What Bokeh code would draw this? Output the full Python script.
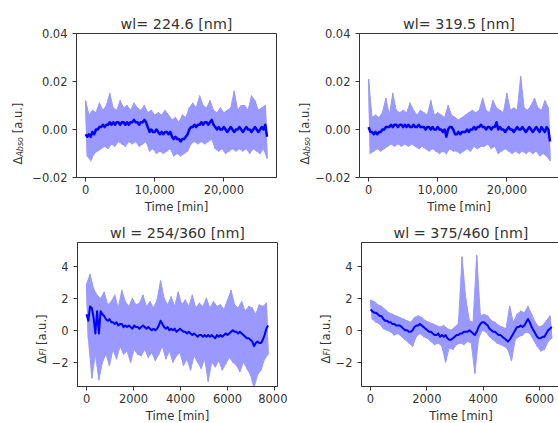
import math
from bokeh.plotting import figure
from bokeh.layouts import column, row
from bokeh.models import (Range1d, FixedTicker, CustomJSTickFormatter,
                          NumeralTickFormatter, LinearAxis, Label)
from bokeh.embed import file_html
from bokeh.resources import INLINE

# ---------------- data ----------------
titles = ["wl= 224.6 [nm]", "wl= 319.5 [nm]", "wl = 254/360 [nm]", "wl = 375/460 [nm]"]
x_label = "Time [min]"
ticks_x_top = [0, 10000, 20000]
ticks_y_top = [-0.02, 0.0, 0.02, 0.04]
ticks_x_bl = [0, 2000, 4000, 6000, 8000]
ticks_x_br = [0, 2000, 4000, 6000]
ticks_y_bot = [-2, 0, 2, 4]

time_top = [0, 250, 500, 750, 1000, 1250, 1500, 1750, 2000, 2250,
            2500, 2750, 3000, 3250, 3500, 3750, 4000, 4250, 4500, 4750,
            5000, 5250, 5500, 5750, 6000, 6250, 6500, 6750, 7000, 7250,
            7500, 7750, 8000, 8250, 8500, 8750, 9000, 9250, 9500, 9750,
            10000, 10250, 10500, 10750, 11000, 11250, 11500, 11750, 12000, 12250,
            12500, 12750, 13000, 13250, 13500, 13750, 14000, 14250, 14500, 14750,
            15000, 15250, 15500, 15750, 16000, 16250, 16500, 16750, 17000, 17250,
            17500, 17750, 18000, 18250, 18500, 18750, 19000, 19250, 19500, 19750,
            20000, 20250, 20500, 20750, 21000, 21250, 21500, 21750, 22000, 22250,
            22500, 22750, 23000, 23250, 23500, 23750, 24000, 24250, 24500, 24750,
            25000, 25250, 25500, 25750, 26000, 26250]

raw_224 = [0.012, -0.011, 0.006, -0.013, 0.008, -0.010, 0.007, -0.009, 0.011, -0.008,
           0.008, -0.007, 0.010, -0.008, 0.015, -0.006, 0.009, -0.007, 0.008, -0.005,
           0.012, -0.006, 0.009, -0.007, 0.010, -0.005, 0.008, -0.006, 0.011, -0.005,
           0.009, -0.007, 0.008, -0.006, 0.010, -0.005, 0.007, -0.009, 0.008, -0.008,
           0.006, -0.010, 0.007, -0.009, 0.006, -0.010, 0.008, -0.009, 0.006, -0.008,
           0.004, -0.011, 0.005, -0.010, 0.003, -0.011, 0.006, -0.010, 0.005, -0.009,
           0.009, -0.006, 0.011, -0.005, 0.009, -0.006, 0.014, -0.005, 0.010, -0.006,
           0.009, -0.005, 0.012, -0.004, 0.008, -0.008, 0.007, -0.009, 0.009, -0.008,
           0.007, -0.010, 0.008, -0.009, 0.009, -0.008, 0.016, -0.009, 0.008, -0.008,
           0.010, -0.009, 0.010, -0.008, 0.008, -0.010, 0.014, -0.008, 0.012, -0.009,
           0.008, -0.010, 0.009, -0.008, 0.010, -0.012]
smooth_224 = [-0.002, -0.003, -0.002, -0.003, -0.001, -0.002, 0.000, 0.000, 0.001, 0.001,
              0.002, 0.001, 0.002, 0.002, 0.003, 0.002, 0.003, 0.002, 0.003, 0.003,
              0.002, 0.003, 0.003, 0.002, 0.003, 0.002, 0.003, 0.003, 0.004, 0.003,
              0.003, 0.002, 0.003, 0.003, 0.004, 0.003, 0.001, -0.001, 0.000, -0.001,
              -0.001, 0.000, -0.001, -0.002, -0.001, -0.002, -0.001, -0.001, -0.002, -0.001,
              -0.003, -0.004, -0.003, -0.004, -0.004, -0.005, -0.004, -0.004, -0.003, -0.002,
              0.000, 0.001, 0.001, 0.002, 0.001, 0.002, 0.002, 0.003, 0.002, 0.003,
              0.003, 0.002, 0.003, 0.004, 0.002, 0.001, 0.000, 0.001, 0.000, 0.000,
              0.001, 0.000, -0.001, 0.000, 0.001, 0.000, -0.001, 0.000, 0.000, 0.001,
              0.000, -0.001, 0.000, 0.001, 0.000, 0.000, -0.001, 0.000, 0.001, 0.000,
              -0.001, 0.000, 0.001, 0.000, 0.002, -0.003]

raw_319 = [0.021, -0.010, 0.005, -0.009, 0.006, -0.008, 0.005, -0.009, 0.007, -0.008,
           0.013, -0.007, 0.006, -0.006, 0.015, -0.007, 0.008, -0.006, 0.007, -0.007,
           0.008, -0.006, 0.007, -0.007, 0.011, -0.006, 0.008, -0.007, 0.006, -0.008,
           0.008, -0.007, 0.007, -0.008, 0.006, -0.009, 0.012, -0.008, 0.006, -0.009,
           0.007, -0.010, 0.006, -0.009, 0.005, -0.010, 0.010, -0.008, 0.006, -0.009,
           0.005, -0.009, 0.004, -0.010, 0.005, -0.009, 0.006, -0.008, 0.007, -0.009,
           0.008, -0.007, 0.007, -0.008, 0.008, -0.007, 0.013, -0.007, 0.008, -0.006,
           0.007, -0.008, 0.012, -0.007, 0.009, -0.010, 0.008, -0.009, 0.007, -0.008,
           0.015, -0.009, 0.008, -0.010, 0.009, -0.009, 0.008, -0.010, 0.022, -0.009,
           0.009, -0.010, 0.008, -0.009, 0.010, -0.010, 0.013, -0.009, 0.009, -0.011,
           0.008, -0.010, 0.012, -0.011, 0.009, -0.013]
smooth_319 = [0.001, -0.001, -0.001, -0.002, -0.001, -0.002, -0.001, -0.001, 0.000, 0.000,
              0.001, 0.001, 0.001, 0.002, 0.001, 0.002, 0.002, 0.001, 0.002, 0.002,
              0.001, 0.002, 0.001, 0.002, 0.001, 0.001, 0.002, 0.001, 0.001, 0.002,
              0.001, 0.001, 0.001, 0.000, 0.001, 0.001, 0.000, 0.001, 0.000, 0.000,
              0.001, 0.000, 0.000, -0.001, 0.000, -0.003, 0.000, 0.001, 0.001, 0.000,
              -0.002, -0.002, -0.001, -0.002, -0.001, -0.001, -0.001, 0.000, -0.001, 0.000,
              0.000, 0.001, 0.000, 0.001, 0.001, 0.002, 0.001, 0.001, 0.000, 0.001,
              0.001, 0.000, 0.001, 0.001, 0.003, 0.000, 0.001, 0.000, 0.000, -0.001,
              0.000, 0.001, 0.000, 0.000, -0.001, 0.000, 0.001, 0.000, 0.000, 0.001,
              0.000, -0.001, 0.000, 0.001, 0.000, -0.001, 0.000, 0.001, 0.000, -0.001,
              0.001, 0.000, -0.001, 0.001, 0.000, -0.005]

time_254 = [0, 75, 150, 225, 300, 375, 450, 525, 600, 675,
            750, 825, 900, 975, 1050, 1125, 1200, 1275, 1350, 1425,
            1500, 1575, 1650, 1725, 1800, 1875, 1950, 2025, 2100, 2175,
            2250, 2325, 2400, 2475, 2550, 2625, 2700, 2775, 2850, 2925,
            3000, 3075, 3150, 3225, 3300, 3375, 3450, 3525, 3600, 3675,
            3750, 3825, 3900, 3975, 4050, 4125, 4200, 4275, 4350, 4425,
            4500, 4575, 4650, 4725, 4800, 4875, 4950, 5025, 5100, 5175,
            5250, 5325, 5400, 5475, 5550, 5625, 5700, 5775, 5850, 5925,
            6000, 6075, 6150, 6225, 6300, 6375, 6450, 6525, 6600, 6675,
            6750, 6825, 6900, 6975, 7050, 7125, 7200, 7275, 7350, 7425,
            7500, 7575, 7650, 7725]
raw_254 = [2.9, -0.5, 3.5, -3.0, 2.6, -1.5, 2.2, -3.1, 2.0, -2.0,
           2.4, -1.5, 1.6, -2.2, 1.8, -1.2, 2.2, -1.8, 1.4, -1.0,
           2.5, -1.5, 1.8, -1.3, 1.5, -2.0, 2.0, -1.2, 1.6, -1.5,
           1.7, -1.6, 2.2, -1.2, 1.5, -1.7, 1.8, -1.4, 1.4, -1.9,
           1.9, -1.5, 3.1, -1.0, 2.0, -1.8, 1.6, -1.3, 2.1, -2.0,
           1.5, -1.6, 2.4, -1.4, 1.6, -2.2, 1.9, -1.8, 1.5, -2.5,
           2.2, -1.6, 1.4, -2.0, 1.7, -2.4, 1.5, -1.8, 2.0, -3.2,
           1.4, -2.0, 1.8, -2.3, 1.5, -1.9, 1.6, -2.5, 1.3, -2.1,
           1.9, -1.7, 2.5, -2.0, 1.6, -2.2, 1.4, -2.6, 1.8, -2.0,
           1.2, -2.4, 1.5, -2.8, 1.4, -3.6, 1.0, -2.8, 1.6, -2.5,
           1.5, -1.8, 1.7, -1.5]
smooth_254 = [1.0, 0.6, 1.5, 1.4, 0.8, -0.2, 1.2, -0.2, 1.2, 1.0,
              0.9, 0.7, 0.6, 0.7, 0.5, 0.5, 0.4, 0.5, 0.3, 0.4,
              0.4, 0.2, 0.3, 0.2, 0.3, 0.2, 0.1, 0.3, 0.2, 0.2,
              0.1, 0.2, 0.3, 0.2, 0.1, 0.2, 0.1, 0.0, 0.1, 0.0,
              0.1, 0.3, 0.6, 0.4, 0.2, 0.1, 0.2, 0.0, 0.1, 0.0,
              0.1, -0.1, 0.0, 0.1, 0.0, -0.1, -0.1, -0.2, -0.1, -0.2,
              -0.3, -0.2, -0.3, -0.4, -0.3, -0.3, -0.4, -0.3, -0.4, -0.3,
              -0.4, -0.3, -0.4, -0.5, -0.3, -0.4, -0.3, -0.4, -0.3, -0.2,
              -0.3, -0.2, -0.1, 0.0, -0.1, -0.1, -0.2, -0.1, -0.2, -0.3,
              -0.4, -0.5, -0.5, -0.6, -0.7, -1.0, -0.8, -0.7, -0.8, -0.8,
              -0.6, -0.3, 0.1, 0.3]

time_375 = [0, 65, 130, 195, 260, 325, 390, 455, 520, 585,
            650, 715, 780, 845, 910, 975, 1040, 1105, 1170, 1235,
            1300, 1365, 1430, 1495, 1560, 1625, 1690, 1755, 1820, 1885,
            1950, 2015, 2080, 2145, 2210, 2275, 2340, 2405, 2470, 2535,
            2600, 2665, 2730, 2795, 2860, 2925, 2990, 3055, 3120, 3185,
            3250, 3315, 3380, 3445, 3510, 3575, 3640, 3705, 3770, 3835,
            3900, 3965, 4030, 4095, 4160, 4225, 4290, 4355, 4420, 4485,
            4550, 4615, 4680, 4745, 4810, 4875, 4940, 5005, 5070, 5135,
            5200, 5265, 5330, 5395, 5460, 5525, 5590, 5655, 5720, 5785,
            5850, 5915, 5980, 6045, 6110, 6175, 6240, 6305, 6370, 6435]
raw_375 = [1.9, 0.7, 1.8, 0.5, 1.6, 0.4, 1.5, 0.1, 1.3, 0.0,
           1.1, -0.1, 1.0, -0.3, 0.9, -0.2, 0.8, -0.4, 0.7, -0.6,
           0.6, -0.8, 0.5, -1.0, 0.8, -0.4, 0.9, -0.2, 0.8, -0.4,
           0.6, -0.5, 0.5, -0.7, 0.4, -0.9, 0.3, -0.8, 0.2, -1.0,
           0.3, -2.0, 0.1, -1.1, 0.0, -1.2, 0.2, -0.9, 0.4, -0.8,
           4.6, -0.9, 2.0, -0.7, 0.6, -0.8, 0.5, -2.7, 4.7, -0.5,
           0.9, 0.0, 1.0, -0.1, 0.9, -0.4, 0.6, -0.6, 0.5, -0.8,
           0.3, -0.9, 0.2, -1.0, 0.1, -1.2, 1.5, -1.9, 0.5, -0.6,
           1.0, -0.4, 1.2, -0.3, 1.1, -0.1, 1.5, -0.2, 1.0, -0.6,
           0.5, -1.0, 0.2, -1.3, 0.3, -1.2, 0.6, -0.7, 0.9, -0.5]
smooth_375 = [1.3, 1.2, 1.1, 1.1, 1.0, 0.9, 0.9, 0.7, 0.6, 0.6,
              0.5, 0.5, 0.4, 0.4, 0.3, 0.3, 0.3, 0.2, 0.1, 0.0,
              0.0, -0.1, -0.1, 0.0, 0.2, 0.3, 0.3, 0.4, 0.3, 0.2,
              0.1, 0.0, -0.1, -0.1, -0.2, -0.3, -0.3, -0.2, -0.4, -0.3,
              -0.4, -0.3, -0.5, -0.6, -0.6, -0.5, -0.4, -0.3, -0.3, -0.2,
              -0.2, -0.1, -0.1, -0.1, 0.0, -0.1, -0.2, -0.3, -0.1, 0.2,
              0.4, 0.5, 0.5, 0.4, 0.3, 0.1, 0.0, -0.1, -0.1, -0.2,
              -0.3, -0.3, -0.4, -0.5, -0.6, -0.7, -0.6, -0.4, -0.2, 0.0,
              0.2, 0.2, 0.3, 0.2, 0.3, 0.5, 0.7, 0.5, 0.2, 0.0,
              -0.2, -0.4, -0.5, -0.5, -0.4, -0.4, -0.2, 0.0, 0.1, 0.2]

# ---------------- style ----------------
FONT = "DejaVu Sans"
TXT = "#333333"
SPINE = "#333333"
LIGHT = "#9999ff"
DARK = "#0000ff"

fmt_y_top = CustomJSTickFormatter(code="return tick.toFixed(2).replace('-', '\u2212');")
fmt_y_bot = CustomJSTickFormatter(code="return (tick < 0 ? '\u2212' : '') + Math.abs(tick).toFixed(0);")
fmt_x_bot = CustomJSTickFormatter(code="return tick.toFixed(0);")


def ylabel_strip(W, H, bx, by, sub, sub_w):
    """Narrow figure whose frame is the whole canvas; holds the rotated y label."""
    s = figure(frame_width=W, frame_height=H, x_range=Range1d(0, W), y_range=Range1d(0, H),
               min_border=0, min_border_left=0, min_border_right=0,
               min_border_top=0, min_border_bottom=0,
               x_axis_type=None, y_axis_type=None, title=None,
               output_backend="svg", toolbar_location=None)
    s.outline_line_color = None
    s.background_fill_color = "white"
    s.border_fill_color = "white"

    def lab(x, y, text, size, style="normal"):
        s.add_layout(Label(x=x, y=y, text=text, angle=math.pi / 2,
                           text_align="left", text_baseline="alphabetic",
                           text_font=FONT, text_font_size=size, text_color=TXT,
                           text_font_style=style))

    lab(bx, by, "\u0394", "11.5px")
    lab(bx + 2.0, by + 7.9, sub, "8px", style="italic")
    lab(bx, by + 7.9 + sub_w + 3.7, "[a.u.]", "11.5px")
    return s


def make_panel(title, t, raw, smooth, xr, yr, xticks, yticks, xfmt, yfmt,
               left, fw, right, top, fh, bottom, right_panel, dark_w):
    p = figure(frame_width=fw, frame_height=fh,
               x_range=Range1d(*xr), y_range=Range1d(*yr),
               min_border_left=left, min_border_right=right,
               min_border_top=top, min_border_bottom=bottom,
               output_backend="svg", toolbar_location=None)
    p.background_fill_color = "white"
    p.border_fill_color = "white"
    p.xgrid.visible = False
    p.ygrid.visible = False

    p.title.text = title
    p.title.align = "center"
    p.title.text_font = FONT
    p.title.text_font_size = "14.3px"
    p.title.text_font_style = "normal"
    p.title.text_color = TXT
    p.title.standoff = 4
    p.title.offset = 1 if right_panel else 0

    # envelope of the noisy signal (highs on even samples, lows on odd samples)
    env_x = t[0::2] + t[1::2][::-1]
    env_y = raw[0::2] + raw[1::2][::-1]
    p.patch(env_x, env_y, fill_color=LIGHT, line_color=LIGHT, line_width=1)
    p.line(t, raw, line_color=LIGHT, line_width=1.3, line_join="round")
    p.line(t, smooth, line_color=DARK, line_width=dark_w, line_join="round")

    for ax, ticks, fmt in ((p.xaxis[0], xticks, xfmt), (p.yaxis[0], yticks, yfmt)):
        ax.ticker = FixedTicker(ticks=ticks)
        ax.formatter = fmt
        ax.axis_line_color = SPINE
        ax.major_tick_line_color = SPINE
        ax.minor_tick_line_color = None
        ax.major_tick_out = 4
        ax.major_tick_in = 0
        ax.major_label_text_font = FONT
        ax.major_label_text_font_size = "11.5px"
        ax.major_label_text_color = TXT
    xa = p.xaxis[0]
    xa.major_label_standoff = 3
    xa.axis_label = x_label
    xa.axis_label_text_font = FONT
    xa.axis_label_text_font_size = "11.7px"
    xa.axis_label_text_font_style = "normal"
    xa.axis_label_text_color = TXT
    xa.axis_label_standoff = 3
    p.yaxis[0].major_label_standoff = 5

    if right_panel:
        p.outline_line_color = None
        top_ax = LinearAxis(ticker=FixedTicker(ticks=[]), axis_line_color=SPINE,
                            major_tick_line_color=None, minor_tick_line_color=None,
                            major_label_text_font_size="0px", major_label_standoff=0,
                            major_tick_out=0, major_tick_in=0)
        p.add_layout(top_ax, "above")
    else:
        p.outline_line_color = SPINE
        p.outline_line_alpha = 1.0
    return p


s1 = ylabel_strip(26, 217, 17.5, 86, "Abso", 19.6)
p1 = make_panel(titles[0], time_top, raw_224, smooth_224, (-1315, 27615), (-0.02, 0.04),
                ticks_x_top, ticks_y_top, NumeralTickFormatter(format="0,0"), fmt_y_top,
                50, 200, 10, 33, 144, 40, False, 2.5)
s2 = ylabel_strip(26, 217, 18.5, 86, "Abso", 19.6)
p2 = make_panel(titles[1], time_top, raw_319, smooth_319, (-1315, 27470), (-0.02, 0.04),
                ticks_x_top, ticks_y_top, NumeralTickFormatter(format="0,0"), fmt_y_top,
                47, 199, 0, 33, 144, 40, True, 2.5)
s3 = ylabel_strip(48, 206, 41, 85, "Fl", 6.8)
p3 = make_panel(titles[2], time_254, raw_254, smooth_254, (-385, 8125), (-3.53, 5.51),
                ticks_x_bl, ticks_y_bot, fmt_x_bot, fmt_y_bot,
                28, 200, 10, 25, 144, 37, False, 2.0)
s4 = ylabel_strip(45, 206, 38, 85, "Fl", 6.8)
p4 = make_panel(titles[3], time_375, raw_375, smooth_375, (-320, 6744), (-3.53, 5.51),
                ticks_x_br, ticks_y_bot, fmt_x_bot, fmt_y_bot,
                28, 199, 0, 25, 144, 37, True, 2.0)

layout = column(row(s1, p1, s2, p2), row(s3, p3, s4, p4))
open("out.html", "w").write(file_html(layout, INLINE))
